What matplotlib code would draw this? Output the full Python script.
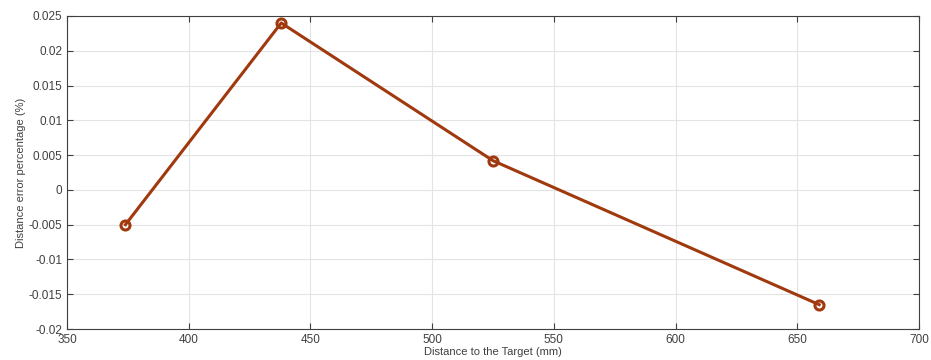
import matplotlib
matplotlib.use("Agg")
import matplotlib.pyplot as plt

plt.rcParams['font.family'] = ['Liberation Sans', 'DejaVu Sans']

distance_mm = [374, 438, 525, 659]
error_pct = [-0.0050, 0.0240, 0.0042, -0.0165]
x_ticks = [350, 400, 450, 500, 550, 600, 650, 700]
y_ticks = [-0.02, -0.015, -0.01, -0.005, 0, 0.005, 0.01, 0.015, 0.02, 0.025]
y_labels = ['-0.02', '-0.015', '-0.01', '-0.005', '0', '0.005', '0.01', '0.015', '0.02', '0.025']

fig = plt.figure(figsize=(9.31, 3.6), dpi=100)
ax = fig.add_axes([67/931, 1-329/360, (919-67)/931, (329-16)/360])

color = '#a0390d'
ax.plot(distance_mm, error_pct, color=color, linewidth=2.2, marker='o',
        markersize=6.5, markerfacecolor='none', markeredgewidth=2.2, markeredgecolor=color)

ax.set_xlim(350, 700)
ax.set_ylim(-0.02, 0.025)
ax.set_xticks(x_ticks)
ax.set_yticks(y_ticks)
ax.set_yticklabels(y_labels)
ax.grid(True, color='#e3e3e3', linewidth=0.8)
ax.set_axisbelow(True)
ax.tick_params(direction='in', top=True, right=True, labelsize=8.5, colors='#404040',
               length=4, width=0.8)
for s in ax.spines.values():
    s.set_color('#404040')
    s.set_linewidth(0.8)

ax.set_xlabel('Distance to the Target (mm)', fontsize=8, color='#404040', labelpad=1)
ax.set_ylabel('Distance error percentage (%)', fontsize=8, color='#404040', labelpad=2)

fig.savefig('out.png', dpi=100)
